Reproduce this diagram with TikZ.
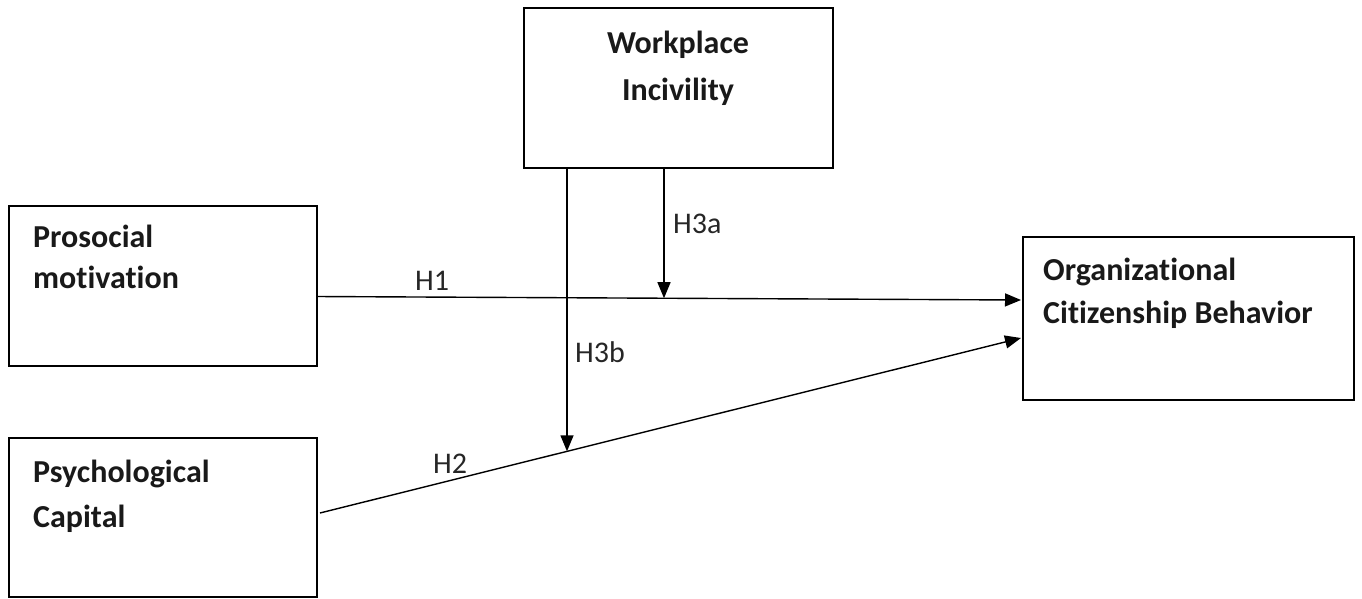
\documentclass[tikz,border=0pt]{standalone}
\usepackage{fontspec}
\setmainfont{Carlito}[Ligatures=NoCommon]
\usetikzlibrary{arrows.meta}
\begin{document}
\begin{tikzpicture}[x=1pt,y=-1pt,
  boxstyle/.style={draw=black,line width=1.6pt,rectangle,inner sep=0pt},
  boxtext/.style={font=\fontsize{32}{40}\selectfont\bfseries,inner sep=0pt,text=black!90},
  hlabel/.style={font=\fontsize{30}{36}\selectfont,inner sep=0pt,anchor=base west,text=black!85},
  arr/.style={line width=1.4pt,-{Triangle[length=16pt,width=13pt]}}]
\useasboundingbox (0,0) rectangle (1362,598);
% boxes
\node[boxstyle,minimum width=309pt,minimum height=160pt] (wi) at (678.5,88) {};
\node[boxstyle,minimum width=308pt,minimum height=160pt] (pm) at (163,286) {};
\node[boxstyle,minimum width=308pt,minimum height=159pt] (pc) at (163,517.5) {};
\node[boxstyle,minimum width=331pt,minimum height=163pt] (ocb) at (1188.5,318.5) {};
% box texts
\node[boxtext,anchor=base] (wi1) at (678,53) {Workplace};
\node[boxtext,anchor=base] (wi2) at (678,100) {Incivility};
\node[boxtext,anchor=base west] (pm1) at (33,247) {Prosocial};
\node[boxtext,anchor=base west] (pm2) at (33,288) {motivation};
\node[boxtext,anchor=base west] (pc1) at (33,482) {Psychological};
\node[boxtext,anchor=base west] (pc2) at (33,527) {Capital};
\node[boxtext,anchor=base west] (ocb1) at (1043,280) {Organizational};
\node[boxtext,anchor=base west] (ocb2) at (1043,323) {Citizenship Behavior};
% connector points
\coordinate (h1s) at (317,296.5);
\coordinate (h1e) at (1021,300);
\coordinate (h2s) at (320,513);
\coordinate (h2e) at (1021,338);
\coordinate (m1) at (664,298.2);
\coordinate (m2) at (567,451.3);
% connectors
\draw[arr] (h1s) -- (h1e);
\draw[arr] (h2s) -- (h2e);
\draw[arr] (wi.south -| m1) -- (m1);
\draw[arr] (wi.south -| m2) -- (m2);
% labels
\node[hlabel] (lh1) at (415,290) {H1};
\node[hlabel] (lh2) at (433,473) {H2};
\node[hlabel] (lh3a) at (673,233) {H3a};
\node[hlabel] (lh3b) at (575,362) {H3b};
\end{tikzpicture}
\end{document}
